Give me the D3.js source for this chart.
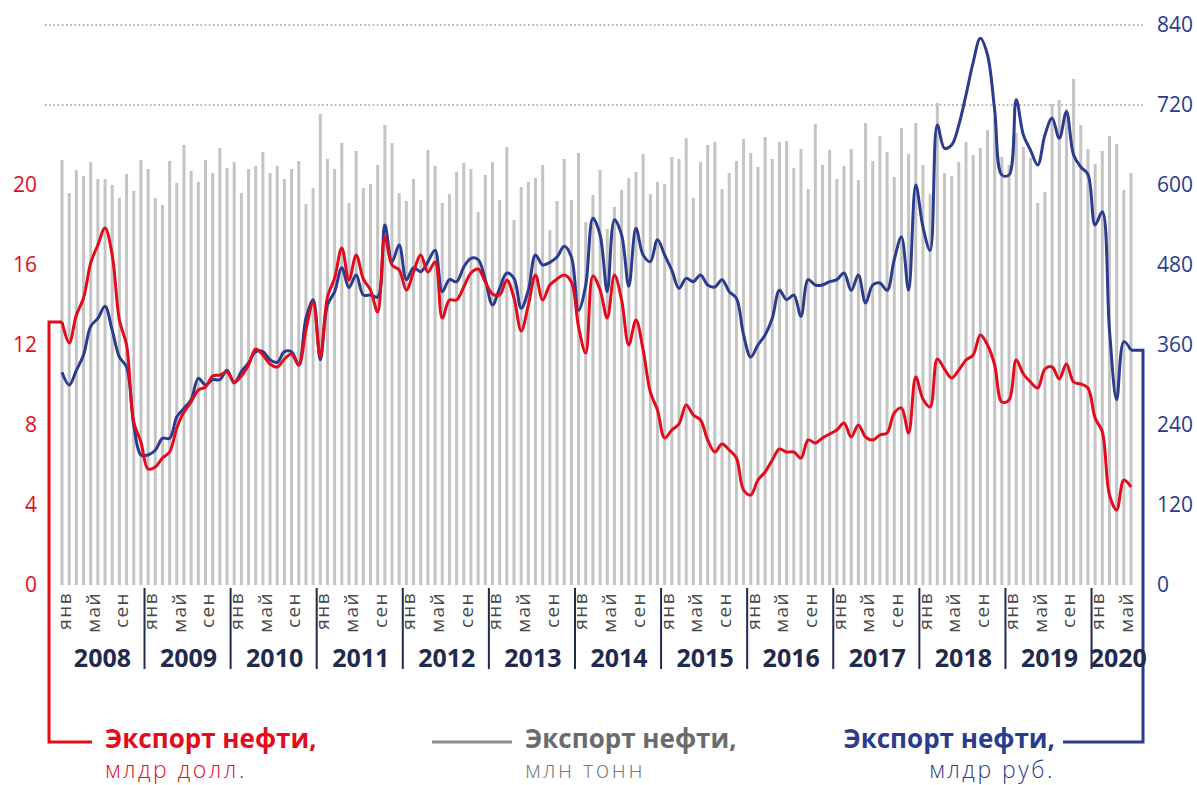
<!DOCTYPE html>
<meta charset="utf-8">
<style>
body { margin: 0; background: #fff; }
svg text { font-family: "Open Sans", "Noto Sans", sans-serif; }
.axis .domain, .axis line { display: none; }
</style>
<svg width="1197" height="785"></svg>
<script src="https://d3js.org/d3.v7.min.js"></script>
<script>

// monthly, Jan 2008 .. Jun 2020
var years = [2008, 2009, 2010, 2011, 2012, 2013, 2014, 2015, 2016, 2017, 2018, 2019, 2020];
var monthNames = ["янв", "фев", "мар", "апр", "май", "июн", "июл", "авг", "сен", "окт", "ноя", "дек"];
var labelMonths = ["янв", "май", "сен"];

// export, bn USD (left axis)
var usd = [
  13.15, 12.1, 13.5, 14.35, 16.1, 17.0, 17.85, 16.5, 13.25, 12.0, 8.15, 7.15,
  5.8, 5.9, 6.35, 6.65, 7.85, 8.65, 9.15, 9.75, 9.9, 10.45, 10.5, 10.65,
  10.15, 10.45, 11.0, 11.8, 11.5, 11.05, 10.9, 11.3, 11.55, 11.0, 12.75, 14.1,
  11.4, 14.4, 15.35, 16.85, 15.25, 16.5, 15.3, 14.75, 13.65, 17.4, 16.0, 15.75,
  14.75, 15.65, 16.5, 15.65, 16.15, 13.35, 14.25, 14.25, 14.9, 15.6, 15.8, 15.15,
  14.55, 14.5, 15.25, 14.35, 12.7, 14.0, 15.5, 14.25, 15.0, 15.3, 15.5, 15.15,
  12.9, 11.6, 15.45, 14.75, 13.35, 15.5, 14.25, 12.0, 13.25, 11.75, 9.65, 8.75,
  7.35, 7.75, 8.05, 9.0, 8.5, 8.25, 7.25, 6.65, 7.05, 6.75, 6.35, 4.75,
  4.5, 5.25, 5.65, 6.25, 6.8, 6.65, 6.65, 6.35, 7.25, 7.1, 7.35, 7.55,
  7.75, 8.1, 7.4, 8.0, 7.4, 7.25, 7.5, 7.6, 8.6, 8.85, 7.6, 10.4,
  9.3, 8.9, 11.3, 10.8, 10.35, 10.75, 11.25, 11.5, 12.5, 12.0, 11.0, 9.15,
  9.25, 11.25, 10.55, 10.15, 9.85, 10.8, 10.9, 10.3, 11.05, 10.15, 10.05, 9.85,
  8.35, 7.65, 4.5, 3.75, 5.25, 4.9
];

// export, bn RUB (right axis)
var rub = [
  319, 300, 322, 345, 388, 400, 418, 382, 342, 327, 240, 195,
  195, 202, 220, 220, 252, 265, 278, 310, 300, 308, 308, 322,
  303, 320, 333, 350, 350, 338, 334, 350, 350, 330, 400, 428,
  338, 420, 440, 476, 446, 465, 435, 435, 432, 540, 485, 510,
  458, 476, 470, 485, 502, 440, 458, 455, 477, 490, 488, 458,
  420, 445, 468, 460, 415, 442, 495, 480, 484, 492, 508, 492,
  412, 450, 550, 525, 440, 548, 525, 448, 535, 495, 485, 518,
  495, 472, 445, 460, 455, 465, 450, 447, 458, 440, 430, 375,
  342, 360, 375, 400, 442, 428, 435, 403, 458, 450, 450, 455,
  458, 468, 442, 465, 423, 450, 453, 442, 488, 522, 442, 600,
  537, 502, 690, 655, 660, 690, 735, 784, 820, 795, 712, 615,
  615, 728, 675, 652, 630, 675, 700, 670, 710, 645, 627, 616,
  540, 560, 382, 278, 365, 352
];

// export, mln tonnes (bars, drawn on the left scale)
var tonnes = [
  21.25, 19.6, 20.75, 20.45, 21.15, 20.3, 20.3, 20.0, 19.35, 20.55, 19.7, 21.25,
  20.8, 19.35, 19.0, 21.2, 20.1, 22.0, 20.7, 20.15, 21.25, 20.6, 21.85, 20.85,
  21.15, 19.6, 20.8, 20.95, 21.65, 20.6, 20.95, 20.3, 20.8, 21.2, 19.05, 19.85,
  23.55, 21.3, 20.8, 22.1, 19.1, 21.7, 19.85, 20.05, 21.0, 23.0, 22.1, 19.6,
  19.2, 20.3, 19.25, 21.75, 20.95, 19.1, 19.55, 20.65, 21.1, 20.8, 18.65, 20.5,
  21.15, 19.25, 21.9, 18.25, 19.9, 20.15, 20.35, 21.0, 17.75, 19.2, 21.3, 19.25,
  21.6, 18.15, 19.5, 20.75, 17.8, 18.9, 19.75, 20.35, 20.65, 21.55, 19.55, 20.15,
  20.05, 21.4, 21.3, 22.35, 19.35, 21.15, 22.0, 22.15, 19.8, 20.6, 21.2, 22.3,
  21.6, 20.9, 22.4, 21.3, 22.15, 22.2, 20.85, 21.8, 19.8, 23.05, 21.0, 21.75,
  20.3, 20.95, 21.8, 20.25, 23.1, 21.2, 22.45, 21.65, 20.4, 22.85, 21.55, 23.1,
  21.0, 19.55, 24.1, 20.6, 20.45, 21.15, 22.15, 21.5, 21.85, 22.75, 23.35, 21.4,
  21.0, 22.6, 21.9, 21.35, 19.1, 19.65, 24.05, 24.25, 23.8, 25.3, 23.0, 21.8,
  21.05, 21.7, 22.45, 22.05, 19.75, 20.6
];

var leftTicks = [0, 4, 8, 12, 16, 20];
var rightTicks = [0, 120, 240, 360, 480, 600, 720, 840];
var gridTicks = [720, 840];

var red = "#e30b1c", blue = "#2b3b8e", navy = "#1f2a4f", grey = "#c4c4c4";

var data = usd.map(function(d, i) {
  return {
    i: i,
    year: years[0] + Math.floor(i / 12),
    month: monthNames[i % 12],
    usd: d,
    rub: rub[i],
    tonnes: tonnes[i]
  };
});

var svg = d3.select("svg");

var x = d3.scalePoint()
    .domain(data.map(function(d) { return d.i; }))
    .range([62, 1131]);
var step = x.step();

var yL = d3.scaleLinear().domain([0, 28]).range([585, 25]);
var yR = d3.scaleLinear().domain([0, 840]).range([585, 25]);

// dotted grid lines
svg.append("g")
  .selectAll("line")
  .data(gridTicks)
  .enter().append("line")
    .attr("x1", 45)
    .attr("x2", 1145)
    .attr("y1", function(d) { return yR(d); })
    .attr("y2", function(d) { return yR(d); })
    .attr("stroke", "#9a9a9a")
    .attr("stroke-width", 1.6)
    .attr("stroke-dasharray", "1.6,2.6");

// bars
svg.append("g")
  .selectAll("rect")
  .data(data)
  .enter().append("rect")
    .attr("x", function(d) { return x(d.i) - 1.5; })
    .attr("y", function(d) { return yL(d.tonnes); })
    .attr("width", 3)
    .attr("height", function(d) { return yL(0) - yL(d.tonnes); })
    .attr("fill", grey);

// lines
var lineUsd = d3.line()
    .x(function(d) { return x(d.i); })
    .y(function(d) { return yL(d.usd); })
    .curve(d3.curveCatmullRom.alpha(0.5));

var lineRub = d3.line()
    .x(function(d) { return x(d.i); })
    .y(function(d) { return yR(d.rub); })
    .curve(d3.curveCatmullRom.alpha(0.5));

var first = data[0], last = data[data.length - 1];

// brackets joining lines to legend
svg.append("path")
    .attr("d", "M" + x(first.i) + "," + yL(first.usd) + "H49V742H92")
    .attr("fill", "none")
    .attr("stroke", red)
    .attr("stroke-width", 3);

svg.append("path")
    .attr("d", "M" + x(last.i) + "," + yR(last.rub) + "H1143V742H1063")
    .attr("fill", "none")
    .attr("stroke", blue)
    .attr("stroke-width", 3);

svg.append("path")
    .datum(data)
    .attr("d", lineRub)
    .attr("fill", "none")
    .attr("stroke", blue)
    .attr("stroke-width", 3)
    .attr("stroke-linejoin", "round");

svg.append("path")
    .datum(data)
    .attr("d", lineUsd)
    .attr("fill", "none")
    .attr("stroke", red)
    .attr("stroke-width", 3)
    .attr("stroke-linejoin", "round");

// axes
svg.append("g")
    .attr("class", "axis")
    .attr("transform", "translate(40,0)")
    .call(d3.axisLeft(yL).tickValues(leftTicks).tickSize(0).tickPadding(3))
  .selectAll("text")
    .attr("fill", red)
    .attr("font-size", 21)
    .attr("font-family", "'Open Sans', sans-serif");

svg.append("g")
    .attr("class", "axis")
    .attr("transform", "translate(1154,0)")
    .call(d3.axisRight(yR).tickValues(rightTicks).tickSize(0).tickPadding(3))
  .selectAll("text")
    .attr("fill", blue)
    .attr("font-size", 21)
    .attr("font-family", "'Open Sans', sans-serif");

// month labels
svg.append("g")
  .selectAll("text")
  .data(data.filter(function(d) { return labelMonths.indexOf(d.month) >= 0; }))
  .enter().append("text")
    .attr("transform", function(d) { return "translate(" + (x(d.i) + 2) + ",592)rotate(-90)"; })
    .attr("text-anchor", "end")
    .attr("dy", "0.36em")
    .attr("font-size", 19)
    .attr("letter-spacing", 1.4)
    .attr("fill", "#4a4a4a")
    .text(function(d) { return d.month; });

// year separators and labels
var yearSpans = years.map(function(yr, k) {
  var a = k === 0 ? x(0) - step / 2 : x(k * 12) - step / 2;
  var b = k === years.length - 1 ? 1143 : x(k * 12 + 12) - step / 2;
  return {year: yr, a: a, b: b};
});

svg.append("g")
  .selectAll("line")
  .data(yearSpans.slice(1))
  .enter().append("line")
    .attr("x1", function(d) { return d.a; })
    .attr("x2", function(d) { return d.a; })
    .attr("y1", 588)
    .attr("y2", 669)
    .attr("stroke", navy)
    .attr("stroke-width", 2);

svg.append("g")
  .selectAll("text")
  .data(yearSpans)
  .enter().append("text")
    .attr("x", function(d) { return (d.a + d.b) / 2 + 1; })
    .attr("y", 667)
    .attr("text-anchor", "middle")
    .attr("font-size", 25)
    .attr("font-weight", 700)
    .attr("fill", navy)
    .text(function(d) { return d.year; });

// legend
var legend = svg.append("g");

legend.append("text")
    .attr("x", 105).attr("y", 748)
    .attr("font-size", 26).attr("font-weight", 700)
    .attr("fill", red)
    .text("Экспорт нефти,");
legend.append("text")
    .attr("x", 105).attr("y", 778)
    .attr("font-size", 23).attr("font-weight", 300).attr("letter-spacing", 2.5)
    .attr("fill", red)
    .text("млдр долл.");

legend.append("line")
    .attr("x1", 432).attr("x2", 512)
    .attr("y1", 742).attr("y2", 742)
    .attr("stroke", "#8c8c8c")
    .attr("stroke-width", 3);
legend.append("text")
    .attr("x", 525).attr("y", 748)
    .attr("font-size", 26).attr("font-weight", 700)
    .attr("fill", "#6b6b6b")
    .text("Экспорт нефти,");
legend.append("text")
    .attr("x", 525).attr("y", 778)
    .attr("font-size", 23).attr("font-weight", 300).attr("letter-spacing", 2.5)
    .attr("fill", "#7a7a7a")
    .text("млн тонн");

legend.append("text")
    .attr("x", 1055).attr("y", 748)
    .attr("text-anchor", "end")
    .attr("font-size", 26).attr("font-weight", 700)
    .attr("fill", blue)
    .text("Экспорт нефти,");
legend.append("text")
    .attr("x", 1055).attr("y", 778)
    .attr("text-anchor", "end")
    .attr("font-size", 23).attr("font-weight", 300).attr("letter-spacing", 2.5)
    .attr("fill", blue)
    .text("млдр руб.");

</script>
